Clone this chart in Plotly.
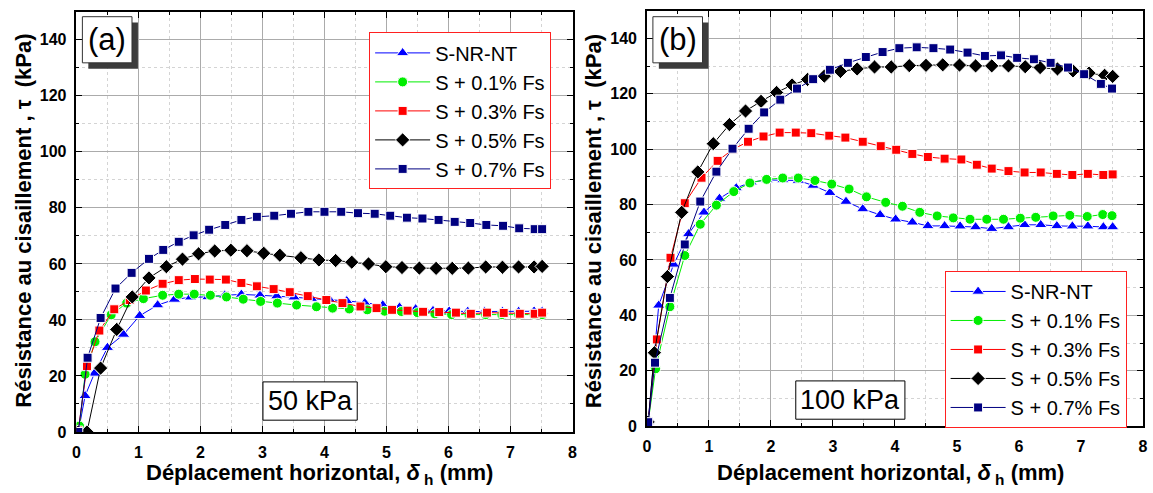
import plotly.graph_objects as go

W, H = 1153, 493

# ---- data : panel (a) 50 kPa ----
x50_snrnt = [0.03, 0.14, 0.29, 0.50, 0.76, 1.02, 1.31, 1.58, 1.84, 2.12, 2.39, 2.66, 2.96, 3.23, 3.51,
             3.79, 4.08, 4.36, 4.65, 4.94, 5.21, 5.47, 5.75, 6.01, 6.31, 6.58, 6.87, 7.13, 7.38, 7.51]
t50_snrnt = [0, 12.9, 20.9, 30.1, 34.8, 41.5, 45.3, 47.3, 48.1, 48.2, 48.8, 49.1, 48.8, 48.5, 48.1,
             47.6, 47.3, 46.8, 46.1, 45.3, 44.5, 43.9, 43.3, 43.1, 43.0, 43.0, 43.0, 43.0, 43.1, 43.1]

x50_fs01 = [0.05, 0.14, 0.30, 0.56, 0.81, 1.08, 1.39, 1.65, 1.90, 2.16, 2.42, 2.69, 2.97, 3.24, 3.55,
            3.87, 4.13, 4.40, 4.69, 4.97, 5.24, 5.50, 5.78, 6.05, 6.33, 6.60, 6.86, 7.13, 7.38, 7.51]
t50_fs01 = [2.1, 20.6, 32.2, 41.8, 46.0, 47.6, 48.8, 49.2, 49.2, 48.8, 48.2, 47.4, 46.6, 46.0, 45.3,
            44.7, 44.2, 43.9, 43.6, 43.1, 43.0, 42.6, 42.2, 41.9, 41.9, 41.9, 41.9, 41.9, 41.9, 41.9]

x50_fs03 = [0.03, 0.17, 0.37, 0.61, 0.86, 1.12, 1.39, 1.65, 1.91, 2.15, 2.41, 2.66, 2.91, 3.18, 3.44, 3.73,
            4.03, 4.29, 4.58, 4.84, 5.09, 5.34, 5.59, 5.85, 6.12, 6.36, 6.62, 6.89, 7.15, 7.39, 7.51]
t50_fs03 = [0.5, 23.5, 36.2, 43.8, 47.1, 50.5, 52.9, 54.2, 54.6, 54.4, 54.4, 53.2, 52.0, 51.0, 49.9, 48.5,
            47.1, 46.0, 44.8, 44.2, 43.6, 43.3, 42.9, 42.8, 42.6, 42.2, 42.6, 42.5, 42.2, 42.2, 42.6]

x50_fs05 = [0.03, 0.17, 0.39, 0.65, 0.90, 1.17, 1.45, 1.71, 1.97, 2.23, 2.49, 2.75, 3.02, 3.28, 3.62,
            3.91, 4.18, 4.44, 4.71, 4.99, 5.25, 5.53, 5.80, 6.06, 6.32, 6.60, 6.87, 7.13, 7.38, 7.51]
t50_fs05 = [0, 0, 22.8, 36.6, 48.2, 55.0, 59.0, 61.7, 63.6, 64.6, 64.9, 64.7, 63.8, 63.1, 62.2,
            61.4, 61.2, 60.6, 60.0, 59.0, 58.7, 58.5, 58.4, 58.4, 58.5, 58.9, 58.8, 58.9, 58.9, 59.1]

x50_fs07 = [0.03, 0.18, 0.39, 0.63, 0.89, 1.17, 1.40, 1.65, 1.89, 2.14, 2.40, 2.66, 2.91, 3.19, 3.46, 3.74,
            4.00, 4.27, 4.54, 4.81, 5.06, 5.33, 5.58, 5.84, 6.10, 6.35, 6.61, 6.88, 7.14, 7.39, 7.51]
t50_fs07 = [0, 26.5, 40.7, 51.2, 56.8, 61.8, 65.0, 67.9, 70.2, 72.2, 73.9, 75.7, 76.8, 77.2, 77.9, 78.6,
            78.6, 78.6, 78.1, 77.9, 77.2, 76.5, 76.2, 75.7, 75.0, 74.6, 73.9, 73.6, 72.7, 72.4, 72.4]

# ---- data : panel (b) 100 kPa ----
x100_snrnt = [0.02, 0.19, 0.43, 0.67, 0.92, 1.17, 1.44, 1.68, 1.94, 2.19, 2.44, 2.68, 2.95, 3.21, 3.48, 3.76,
              4.01, 4.28, 4.53, 4.80, 5.05, 5.30, 5.56, 5.83, 6.09, 6.35, 6.61, 6.86, 7.11, 7.36, 7.51]
t100_snrnt = [1.5, 43.6, 58.4, 69.4, 77.2, 82.2, 86.0, 88.1, 88.9, 88.9, 88.7, 86.9, 84.3, 81.1, 78.4, 76.3,
              74.7, 73.6, 72.3, 72.3, 72.2, 71.9, 71.3, 71.9, 72.7, 72.7, 72.3, 72.2, 72.2, 71.9, 71.9]

x100_fs01 = [0.02, 0.14, 0.37, 0.61, 0.86, 1.12, 1.40, 1.66, 1.93, 2.19, 2.44, 2.71, 2.98, 3.26, 3.54,
             3.85, 4.12, 4.40, 4.68, 4.94, 5.21, 5.48, 5.75, 6.02, 6.27, 6.55, 6.82, 7.10, 7.35, 7.50]
t100_fs01 = [1.5, 20.7, 43.1, 61.6, 72.9, 79.8, 84.7, 87.8, 89.1, 89.6, 89.6, 88.7, 87.4, 85.6, 82.8,
             80.8, 79.4, 77.2, 75.9, 75.2, 74.7, 74.7, 74.7, 75.1, 75.4, 75.9, 76.1, 75.7, 76.4, 76.0]

x100_fs03 = [0.02, 0.16, 0.38, 0.61, 0.88, 1.14, 1.39, 1.63, 1.88, 2.14, 2.40, 2.65, 2.94, 3.20, 3.48, 3.77,
             4.02, 4.28, 4.53, 4.80, 5.07, 5.32, 5.56, 5.83, 6.09, 6.35, 6.61, 6.86, 7.11, 7.36, 7.51]
t100_fs03 = [1.5, 31.3, 60.8, 80.5, 89.7, 95.8, 100.0, 102.7, 104.6, 106.0, 106.0, 105.8, 104.9, 104.2, 102.7, 101.1,
             99.8, 98.3, 97.2, 96.6, 96.3, 94.4, 93.0, 92.1, 91.6, 91.6, 91.1, 90.7, 91.1, 90.7, 90.9]

x100_fs05 = [0.02, 0.12, 0.33, 0.56, 0.82, 1.07, 1.33, 1.59, 1.84, 2.09, 2.34, 2.59, 2.86, 3.12, 3.39, 3.67,
             3.94, 4.23, 4.50, 4.77, 5.04, 5.30, 5.56, 5.83, 6.10, 6.34, 6.62, 6.87, 7.13, 7.38, 7.51]
t100_fs05 = [1.5, 26.5, 54.0, 77.2, 91.8, 102.0, 108.9, 113.8, 117.3, 120.5, 123.2, 125.2, 126.4, 128.1, 129.0, 129.7,
             129.7, 130.2, 130.3, 130.5, 130.4, 130.1, 130.1, 130.1, 129.8, 129.5, 129.0, 128.3, 127.5, 126.7, 126.3]

x100_fs07 = [0.02, 0.13, 0.37, 0.61, 0.86, 1.12, 1.38, 1.64, 1.89, 2.15, 2.42, 2.68, 2.95, 3.24, 3.53,
             3.80, 4.07, 4.35, 4.62, 4.89, 5.17, 5.45, 5.71, 5.97, 6.24, 6.51, 6.79, 7.05, 7.32, 7.50]
t100_fs07 = [1.4, 22.9, 46.3, 65.6, 81.1, 91.9, 100.2, 107.4, 113.3, 117.9, 121.9, 125.3, 128.7, 131.2, 133.3,
             135.1, 136.5, 136.8, 136.5, 136.0, 134.9, 133.7, 133.9, 133.0, 132.5, 131.2, 129.5, 127.1, 123.6, 121.9]

series_names = ["S-NR-NT", "S + 0.1% Fs", "S + 0.3% Fs", "S + 0.5% Fs", "S + 0.7% Fs"]
series_colors = ["#0000FF", "#00EE00", "#FF0000", "#000000", "#000080"]
series_symbols = ["triangle-up", "circle", "square", "diamond", "square"]
series_sizes = [11, 10, 9, 11, 9]

panel_a = [(x50_snrnt, t50_snrnt), (x50_fs01, t50_fs01), (x50_fs03, t50_fs03),
           (x50_fs05, t50_fs05), (x50_fs07, t50_fs07)]
panel_b = [(x100_snrnt, t100_snrnt), (x100_fs01, t100_fs01), (x100_fs03, t100_fs03),
           (x100_fs05, t100_fs05), (x100_fs07, t100_fs07)]


def px(x):
    return x / W


def py(y):
    return 1 - y / H


FONT = "Arial, Liberation Sans, sans-serif"

fig = go.Figure()

for k, (xs, ys) in enumerate(panel_a):
    fig.add_trace(go.Scatter(
        x=xs, y=ys, xaxis="x", yaxis="y", mode="lines+markers", name=series_names[k],
        line=dict(color=series_colors[k], width=1),
        marker=dict(symbol=series_symbols[k], size=series_sizes[k], color=series_colors[k],
                    line=dict(color="white", width=1)),
        legend="legend", legendgroup="a%d" % k))

for k, (xs, ys) in enumerate(panel_b):
    fig.add_trace(go.Scatter(
        x=xs, y=ys, xaxis="x2", yaxis="y2", mode="lines+markers", name=series_names[k],
        line=dict(color=series_colors[k], width=1),
        marker=dict(symbol=series_symbols[k], size=series_sizes[k], color=series_colors[k],
                    line=dict(color="white", width=1)),
        legend="legend2", legendgroup="b%d" % k))

# plot-area rectangles (pixels): left, right, top, bottom
box_a = (73, 573, 12, 440)
box_b = (648, 1148, 11, 434)


def xaxis_style(box):
    return dict(
        domain=[px(box[0]), px(box[1])], range=[0, 8], dtick=1, tick0=0,
        showline=True, linecolor="black", linewidth=1.5, mirror="allticks",
        ticks="inside", ticklen=6, tickwidth=1.2, tickcolor="black",
        showgrid=True, gridcolor="#ababab", gridwidth=1, zeroline=False,
        tickfont=dict(family=FONT, size=16, color="black", weight="bold"),
        ticklabelstandoff=5,
        minor=dict(dtick=0.5, showgrid=True, gridcolor="#d4d4d4", griddash="dot",
                   ticks="inside", ticklen=3, tickcolor="black"),
    )


def yaxis_style(box):
    return dict(
        domain=[py(box[3]), py(box[2])], range=[0, 150], dtick=20, tick0=0,
        showline=True, linecolor="black", linewidth=1.5, mirror="allticks",
        ticks="inside", ticklen=6, tickwidth=1.2, tickcolor="black",
        showgrid=True, gridcolor="#ababab", gridwidth=1, zeroline=False,
        tickfont=dict(family=FONT, size=16, color="black", weight="bold"),
        ticklabelstandoff=5,
        minor=dict(dtick=10, showgrid=True, gridcolor="#d4d4d4", griddash="dot",
                   ticks="inside", ticklen=3, tickcolor="black"),
    )


legend_common = dict(
    font=dict(family=FONT, size=20, color="black"),
    bordercolor="#FF2020", borderwidth=1, bgcolor="white",
    xanchor="left", yanchor="top", itemwidth=55, tracegroupgap=0,
)

shapes = []
annotations = []

xtitle = "Déplacement horizontal, <i>δ</i><sub> h</sub> (mm)"
ytitle = "Résistance au cisaillement , τ  (kPa)"

for box, tag, label, lbox in [
    (box_a, "(a)", "50 kPa", (261, 356, 389, 428)),
    (box_b, "(b)", "100 kPa", (798, 908, 388, 427)),
]:
    # tag with drop shadow
    tl = box[0] + 6
    tt = 17
    shapes.append(dict(type="rect", xref="paper", yref="paper", layer="above",
                       x0=px(tl + 6), x1=px(tl + 56), y0=py(tt + 53), y1=py(tt + 6),
                       fillcolor="#3c3c3c", line=dict(width=0)))
    shapes.append(dict(type="rect", xref="paper", yref="paper", layer="above",
                       x0=px(tl), x1=px(tl + 50), y0=py(tt + 47), y1=py(tt),
                       fillcolor="white", line=dict(color="#333333", width=1)))
    annotations.append(dict(xref="paper", yref="paper", x=px(tl + 25), y=py(tt + 23.5),
                            text=tag, showarrow=False, xanchor="center", yanchor="middle",
                            font=dict(family=FONT, size=31, color="black")))
    # normal stress label
    shapes.append(dict(type="rect", xref="paper", yref="paper", layer="above",
                       x0=px(lbox[0]), x1=px(lbox[1]), y0=py(lbox[3]), y1=py(lbox[2]),
                       fillcolor="white", line=dict(color="black", width=1)))
    annotations.append(dict(xref="paper", yref="paper", x=px((lbox[0] + lbox[1]) / 2),
                            y=py((lbox[2] + lbox[3]) / 2), text=label, showarrow=False,
                            xanchor="center", yanchor="middle",
                            font=dict(family=FONT, size=27, color="black")))
    # axis titles
    annotations.append(dict(xref="paper", yref="paper", x=px((box[0] + box[1]) / 2 - 5),
                            y=py(467), text=xtitle, showarrow=False,
                            xanchor="center", yanchor="top",
                            font=dict(family=FONT, size=22, color="black", weight="bold")))
    annotations.append(dict(xref="paper", yref="paper", x=px(box[0] - 53),
                            y=py(225), text=ytitle, showarrow=False, textangle=-90,
                            xanchor="center", yanchor="middle",
                            font=dict(family=FONT, size=22, color="black", weight="bold")))

fig.update_layout(
    width=W, height=H, margin=dict(l=0, r=0, t=0, b=0),
    paper_bgcolor="white", plot_bgcolor="white",
    xaxis=dict(anchor="y", **xaxis_style(box_a)),
    yaxis=dict(anchor="x", **yaxis_style(box_a)),
    xaxis2=dict(anchor="y2", **xaxis_style(box_b)),
    yaxis2=dict(anchor="x2", **yaxis_style(box_b)),
    legend=dict(x=px(368), y=py(33), **legend_common),
    legend2=dict(x=px(948), y=py(276), **legend_common),
    shapes=shapes, annotations=annotations, showlegend=True,
)

fig.write_html("out.html")
